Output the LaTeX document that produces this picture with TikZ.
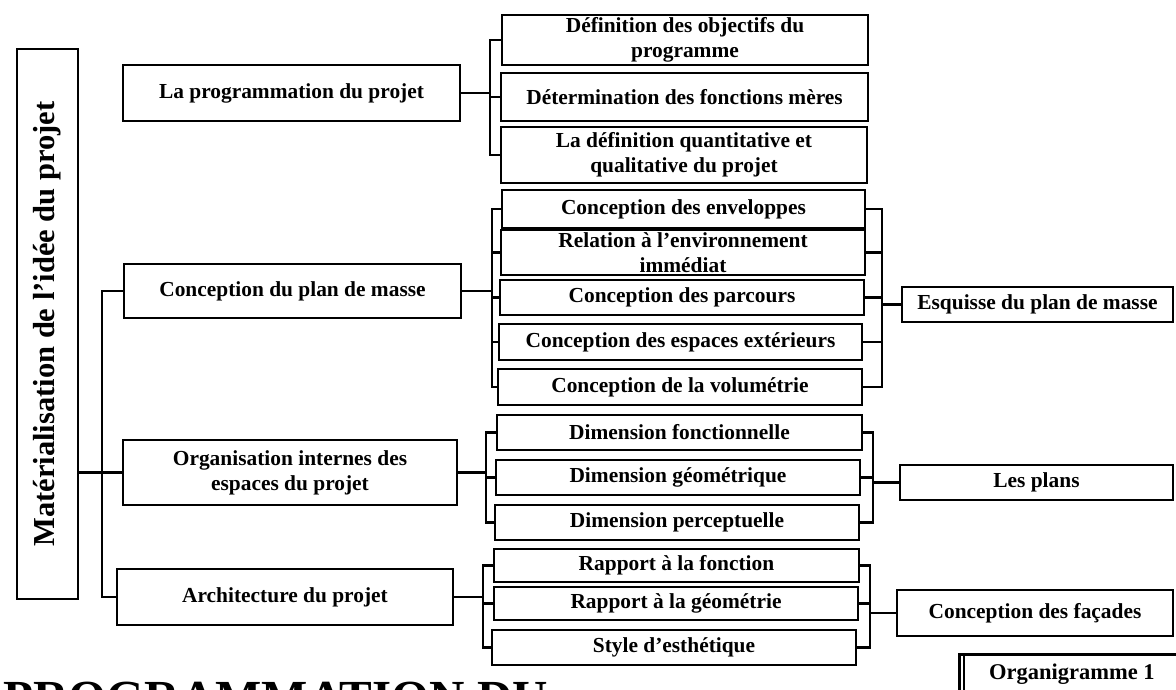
\documentclass[tikz,border=0pt]{standalone}
\usepackage{fontspec}
\setmainfont{Liberation Serif}
\tikzset{
  bx/.style={draw, line width=2.6pt, inner sep=0pt, align=center, fill=white,
    font=\fontsize{21.4}{25}\selectfont\bfseries},
  ln/.style={line width=2.4pt},
}
\newcommand\bx[6]{\node[bx, minimum width={(#4-#2)*1pt}, minimum height={(#5-#3)*1pt}] (#1) at ({(#2+#4)/2},{(#3+#5)/2}) {#6};}
\begin{document}
\begin{tikzpicture}[x=1pt,y=-1pt]
\useasboundingbox (0,0) rectangle (1176,690);
\clip (0,0) rectangle (1176,690);
\fill[white] (0,0) rectangle (1176,690);
\coordinate (tL) at (102,0);
\coordinate (t1) at (490,0);
\coordinate (t2) at (492,0);
\coordinate (t3) at (486,0);
\coordinate (t4) at (483,0);
\coordinate (u2) at (882,0);
\coordinate (u3) at (873,0);
\coordinate (u4) at (870,0);
% left box
\bx{L}{17}{49}{78}{599}{}
\node[font=\fontsize{30.5}{34}\selectfont\bfseries, rotate=90, inner sep=0pt] (Lt) at (L.center) {Matérialisation de l’idée du projet};
% level 1
\bx{b1}{123}{65}{460}{121}{La programmation du projet}
\bx{b2}{124}{264}{461}{318}{Conception du plan de masse}
\bx{b3}{123}{440}{457}{505}{Organisation internes des\\espaces du projet}
\bx{b4}{117}{569}{453}{625}{Architecture du projet}
% level 2
\bx{c11}{502}{15}{868}{65}{Définition des objectifs du\\programme}
\bx{c12}{501}{73}{868}{121}{Détermination des fonctions mères}
\bx{c13}{501}{127}{867}{183}{La définition quantitative et\\qualitative du projet}
\bx{c21}{502}{190}{865}{228}{Conception des enveloppes}
\bx{c22}{501}{230}{865}{275}{Relation à l’environnement\\immédiat}
\bx{c23}{500}{280}{864}{315}{Conception des parcours}
\bx{c24}{499}{324}{862}{360}{Conception des espaces extérieurs}
\bx{c25}{498}{369}{862}{405}{Conception de la volumétrie}
\bx{c31}{497}{415}{862}{450}{Dimension fonctionnelle}
\bx{c32}{496}{460}{860}{495}{Dimension géométrique}
\bx{c33}{495}{505}{859}{540}{Dimension perceptuelle}
\bx{c41}{494}{549}{859}{582}{Rapport à la fonction}
\bx{c42}{494}{587}{858}{620}{Rapport à la géométrie}
\bx{c43}{492}{630}{856}{665}{Style d’esthétique}
% level 3
\bx{r2}{902}{287}{1173}{322}{Esquisse du plan de masse}
\bx{r3}{900}{465}{1173}{500}{Les plans}
\bx{r4}{897}{590}{1173}{636}{Conception des façades}
\node[bx, font=\fontsize{22.5}{26}\selectfont\bfseries, minimum width=237pt, minimum height=40pt, anchor=north west] (org) at (958,653) {Organigramme 1\hspace*{12pt}};
\draw[line width=1.6pt] ([xshift=6pt,yshift=-2pt]org.north west) -- ([xshift=6pt]org.south west);
% left trunk
\draw[ln] (b2.west) -- (b2.west -| tL) -- (b4.west -| tL) -- (b4.west);
\draw[ln] (L.east |- b3.west) -- (b3.west);
% group 1
\draw[ln] (c11.west) -- (c11.west -| t1) -- (c13.west -| t1) -- (c13.west);
\draw[ln] (c12.west -| t1) -- (c12.west);
\draw[ln] (b1.east) -- (b1.east -| t1);
% group 2
\draw[ln] (c21.west) -- (c21.west -| t2) -- (c25.west -| t2) -- (c25.west);
\draw[ln] (c22.west -| t2) -- (c22.west);
\draw[ln] (c23.west -| t2) -- (c23.west);
\draw[ln] (c24.west -| t2) -- (c24.west);
\draw[ln] (b2.east) -- (b2.east -| t2);
\draw[ln] (c21.east) -- (c21.east -| u2) -- (c25.east -| u2) -- (c25.east);
\draw[ln] (c22.east) -- (c22.east -| u2);
\draw[ln] (c23.east) -- (c23.east -| u2);
\draw[ln] (c24.east) -- (c24.east -| u2);
\draw[ln] (r2.west -| u2) -- (r2.west);
% group 3
\draw[ln] (c31.west) -- (c31.west -| t3) -- (c33.west -| t3) -- (c33.west);
\draw[ln] (c32.west -| t3) -- (c32.west);
\draw[ln] (b3.east) -- (b3.east -| t3);
\draw[ln] (c31.east) -- (c31.east -| u3) -- (c33.east -| u3) -- (c33.east);
\draw[ln] (c32.east) -- (c32.east -| u3);
\draw[ln] (r3.west -| u3) -- (r3.west);
% group 4
\draw[ln] (c41.west) -- (c41.west -| t4) -- (c43.west -| t4) -- (c43.west);
\draw[ln] (c42.west -| t4) -- (c42.west);
\draw[ln] (b4.east) -- (b4.east -| t4);
\draw[ln] (c41.east) -- (c41.east -| u4) -- (c43.east -| u4) -- (c43.east);
\draw[ln] (c42.east) -- (c42.east -| u4);
\draw[ln] (r4.west -| u4) -- (r4.west);
% bottom cut-off title
\node[anchor=north west, inner sep=0pt, font=\fontsize{49}{52}\selectfont\bfseries] (title) at (3,682) {PROGRAMMATION DU};
\end{tikzpicture}
\end{document}
